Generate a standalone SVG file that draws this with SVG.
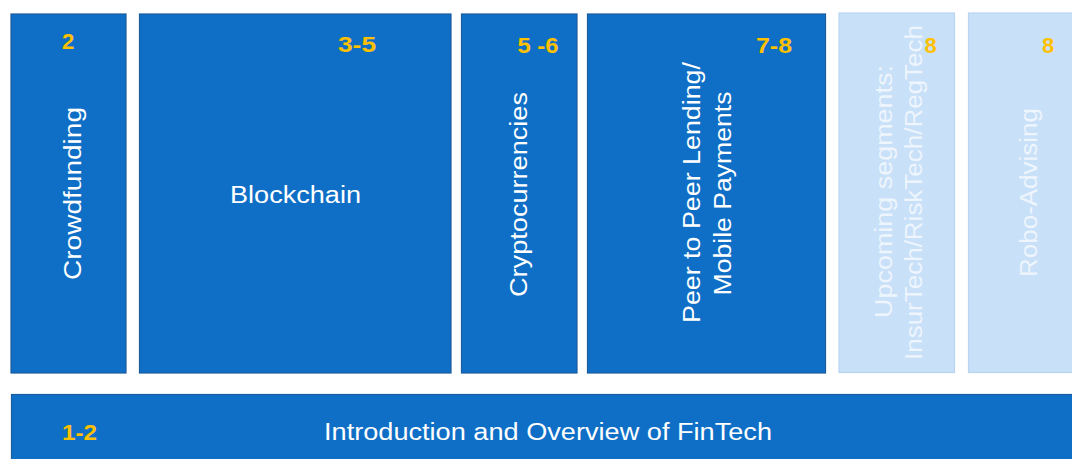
<svg xmlns="http://www.w3.org/2000/svg" width="1072" height="459" viewBox="0 0 1072 459">
<style>
.dark{fill:#0F6FC6;stroke:#1A5C9E;stroke-width:1.2}
.light{fill:#C8E0F8;stroke:#B9D5F2;stroke-width:1.2}
.lbl{font-family:"Liberation Sans",Arial,sans-serif;font-size:23px;fill:#FFFFFF;text-anchor:middle}
.lbl2{font-family:"Liberation Sans",Arial,sans-serif;font-size:23px;fill:#EEF5FD;text-anchor:middle}
.num{font-family:"Liberation Sans",Arial,sans-serif;font-size:22px;font-weight:bold;fill:#FFC000;text-anchor:middle}
</style>
<rect width="1072" height="459" fill="#FFFFFF"/>
<g id="crowdfunding">
<rect class="dark" x="11" y="14" width="115" height="359"/>
<text class="num" x="68" y="49">2</text>
<text class="lbl" transform="translate(81,193.5) rotate(-90)" textLength="173" lengthAdjust="spacingAndGlyphs">Crowdfunding</text>
</g>
<g id="blockchain">
<rect class="dark" x="139.5" y="14" width="311.5" height="359"/>
<text class="num" x="357" y="52" textLength="38" lengthAdjust="spacingAndGlyphs">3-5</text>
<text class="lbl" x="295.5" y="203" textLength="131" lengthAdjust="spacingAndGlyphs">Blockchain</text>
</g>
<g id="cryptocurrencies">
<rect class="dark" x="461.5" y="14" width="115.5" height="359"/>
<text class="num" x="538" y="53" textLength="41" lengthAdjust="spacingAndGlyphs">5 -6</text>
<text class="lbl" transform="translate(527,194.5) rotate(-90)" textLength="205" lengthAdjust="spacingAndGlyphs">Cryptocurrencies</text>
</g>
<g id="p2p">
<rect class="dark" x="587.5" y="14" width="238" height="359"/>
<text class="num" x="774" y="53" textLength="36" lengthAdjust="spacingAndGlyphs">7-8</text>
<text class="lbl" transform="translate(700,192.5) rotate(-90)" textLength="261" lengthAdjust="spacingAndGlyphs">Peer to Peer Lending/</text>
<text class="lbl" transform="translate(730.5,193.5) rotate(-90)" textLength="204" lengthAdjust="spacingAndGlyphs">Mobile Payments</text>
</g>
<g id="upcoming">
<rect class="light" x="839" y="13" width="115.5" height="359.5"/>
<text class="lbl2" transform="translate(892,191.5) rotate(-90)" textLength="253" lengthAdjust="spacingAndGlyphs">Upcoming segments:</text>
<text class="lbl2" transform="translate(922,192.5) rotate(-90)" textLength="335" lengthAdjust="spacingAndGlyphs">InsurTech/RiskTech/RegTech</text>
<text class="num" x="930.5" y="53">8</text>
</g>
<g id="robo">
<rect class="light" x="968.5" y="13" width="110" height="359.5"/>
<text class="num" x="1048" y="53">8</text>
<text class="lbl2" transform="translate(1037,192.5) rotate(-90)" textLength="169" lengthAdjust="spacingAndGlyphs">Robo-Advising</text>
</g>
<g id="intro">
<rect class="dark" x="11.5" y="394.5" width="1070" height="70"/>
<text class="num" x="79.5" y="440" textLength="35" lengthAdjust="spacingAndGlyphs">1-2</text>
<text class="lbl" x="548" y="440" textLength="448" lengthAdjust="spacingAndGlyphs">Introduction and Overview of FinTech</text>
</g>
<g id="connectors"></g>
</svg>
